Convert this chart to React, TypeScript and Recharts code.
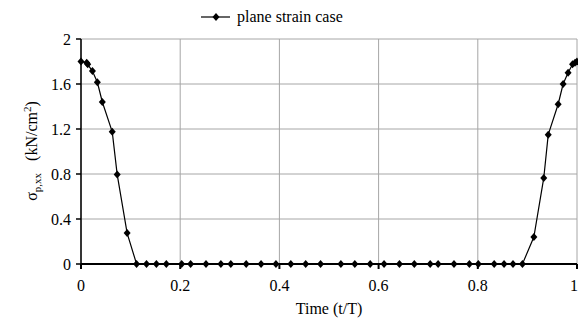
import { LineChart, Line, XAxis, YAxis, CartesianGrid, Legend } from 'recharts';

const TIME = [
  0, 0.0115, 0.0135, 0.023, 0.033, 0.043, 0.063, 0.073, 0.093, 0.112,
  0.132, 0.152, 0.172, 0.203, 0.221, 0.252, 0.282, 0.302, 0.333, 0.363,
  0.393, 0.423, 0.453, 0.483, 0.524, 0.552, 0.583, 0.611, 0.642, 0.672,
  0.704, 0.72, 0.752, 0.783, 0.801, 0.833, 0.853, 0.871, 0.89,
  0.913, 0.933, 0.942, 0.962, 0.972, 0.982, 0.991, 0.996, 1.0,
];
const STRESS = [
  1.8, 1.79, 1.775, 1.715, 1.615, 1.44, 1.175, 0.795, 0.275, 0,
  0, 0, 0, 0, 0, 0, 0, 0, 0, 0,
  0, 0, 0, 0, 0, 0, 0, 0, 0, 0,
  0, 0, 0, 0, 0, 0, 0, 0, 0,
  0.24, 0.765, 1.15, 1.42, 1.6, 1.7, 1.775, 1.79, 1.8,
];
const X_TICKS = [0, 0.2, 0.4, 0.6, 0.8, 1];
const Y_TICKS = [0, 0.4, 0.8, 1.2, 1.6, 2];
const SERIES_NAME = 'plane strain case';

const data = TIME.map((t, i) => ({ t, s: STRESS[i] }));

const FONT = "'Liberation Serif', 'DejaVu Serif', 'Times New Roman', serif";

function Diamond(props: any) {
  const { cx, cy } = props;
  if (cx == null || cy == null) return null;
  return (
    <polygon
      key={`d-${cx}-${cy}`}
      points={`${cx},${cy - 4} ${cx + 3.5},${cy} ${cx},${cy + 4} ${cx - 3.5},${cy}`}
      fill="#000"
    />
  );
}

function LegendBox() {
  return (
    <div style={{ height: 34, boxSizing: 'border-box', paddingTop: 3, display: 'flex', alignItems: 'flex-start', marginLeft: 201, fontFamily: FONT, fontSize: 16, lineHeight: '18px', color: '#000' }}>
      <svg width={30} height={18} style={{ marginRight: 6 }}>
        <line x1={0} y1={9} x2={29} y2={9} stroke="#000" strokeWidth={1.2} />
        <polygon points="15,5 18.5,9 15,13 11.5,9" fill="#000" />
      </svg>
      <span style={{ fontFamily: FONT }}>{SERIES_NAME}</span>
    </div>
  );
}

function YLabel() {
  return (
    <text transform="translate(37,151) rotate(-90)" textAnchor="middle" fontFamily={FONT} fontSize={16} fill="#000">
      <tspan>σ</tspan>
      <tspan fontSize={11} dy={4}>p,xx</tspan>
      <tspan dy={-4} dx={12}>(kN/cm</tspan>
      <tspan fontSize={11} dy={-6}>2</tspan>
      <tspan dy={6}>)</tspan>
    </text>
  );
}

export default function App() {
  return (
    <div style={{ position: 'fixed', left: 0, top: 0, background: '#fff', fontFamily: FONT }}>
      <LineChart width={578} height={320} data={data} margin={{ top: 5, right: 1, left: 0, bottom: 0 }} style={{ fontFamily: FONT }}>
        <CartesianGrid stroke="#a6a6a6" strokeWidth={1} horizontalValues={Y_TICKS} verticalValues={X_TICKS} />
        <XAxis
          xAxisId="top"
          orientation="top"
          type="number"
          domain={[0, 1]}
          height={0}
          tick={false}
          tickLine={false}
          stroke="#333"
          strokeWidth={2}
        />
        <XAxis
          dataKey="t"
          type="number"
          domain={[0, 1]}
          ticks={X_TICKS}
          height={56}
          stroke="#000"
          strokeWidth={2}
          tickSize={5}
          tickMargin={11}
          tick={{ fill: '#000', fontSize: 16, fontFamily: FONT }}
          label={{ value: 'Time (t/T)', position: 'insideBottom', offset: 6, fill: '#000', fontSize: 16, fontFamily: FONT }}
        />
        <YAxis
          type="number"
          domain={[0, 2]}
          ticks={Y_TICKS}
          width={81}
          stroke="#000"
          strokeWidth={1.5}
          tickSize={5}
          tickMargin={5}
          tick={{ fill: '#000', fontSize: 16, fontFamily: FONT }}
          label={{ content: () => <YLabel /> }}
        />
        <Legend verticalAlign="top" content={() => <LegendBox />} />
        <Line
          dataKey="s"
          name={SERIES_NAME}
          stroke="#000"
          strokeWidth={1.2}
          dot={Diamond}
          activeDot={false}
          isAnimationActive={false}
        />
      </LineChart>
    </div>
  );
}
